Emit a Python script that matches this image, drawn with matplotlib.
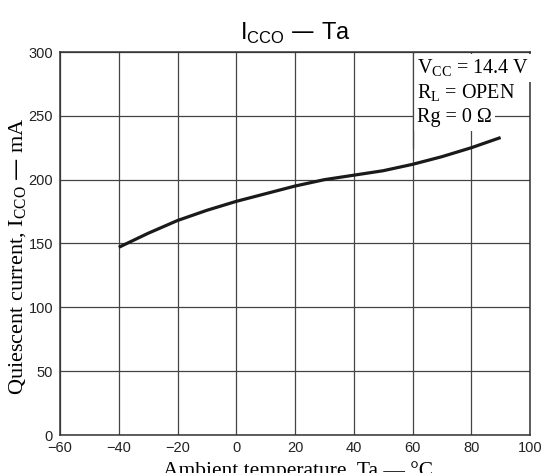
import numpy as np
import matplotlib.pyplot as plt

# values
temp = [-40, -30, -20, -10, 0, 10, 20, 30, 40, 50, 60, 70, 80, 90]
icco = [147, 158, 168, 176, 183, 189, 195, 200, 203.5, 207, 212, 218, 225, 233]

xticks = [-60, -40, -20, 0, 20, 40, 60, 80, 100]
yticks = [0, 50, 100, 150, 200, 250, 300]

sans = ["Liberation Sans", "DejaVu Sans"]
serif = ["Liberation Serif", "DejaVu Serif"]

W, H = 552, 473
fig = plt.figure(figsize=(W/100, H/100), dpi=100, facecolor="white")
ax = fig.add_axes([60/W, 1-435/H, 470/W, 383/H])

ax.set_xlim(-60, 100)
ax.set_ylim(0, 300)
ax.set_xticks(xticks)
ax.set_yticks(yticks)
ax.grid(True, color="#444444", linewidth=0.9)
ax.set_axisbelow(True)
for s in ax.spines.values():
    s.set_color("#333333")
    s.set_linewidth(1.1)
ax.tick_params(length=0, pad=4, labelsize=10.5, colors="#222222")
ax.tick_params(axis="y", pad=5)
for lab in ax.get_xticklabels() + ax.get_yticklabels():
    lab.set_family(sans)

ax.plot(temp, icco, color="#1a1a1a", linewidth=2.3, solid_capstyle="butt")

# title and axis labels
fig.text(295/W, 1-40/H, r"I$_{\mathregular{CCO}}$ — Ta", ha="center", va="baseline",
         fontsize=17, family=sans)
fig.text(18/W, 1-256/H, r"Quiescent current, I$_{\mathregular{CCO}}$ — mA",
         rotation=90, ha="center", va="center", fontsize=16, family=serif)
fig.text(298/W, 1-476/H, "Ambient temperature, Ta — °C", ha="center", va="baseline",
         fontsize=15.5, family=serif)

# test conditions (white box, the 60 gridline stays as its left edge)
cond = [r"V$_{\mathregular{CC}}$ = 14.4 V", r"R$_{\mathregular{L}}$ = OPEN", r"Rg = 0 Ω"]
for i, t in enumerate(cond):
    ax.text(0.76, 0.958 - i*0.065, t, transform=ax.transAxes, ha="left", va="center",
            fontsize=14.5, family=serif, zorder=3,
            bbox=dict(facecolor="white", edgecolor="none", pad=2.5))
ax.axvline(xticks[6], ymin=0.75, ymax=1, color="#444444", linewidth=0.9, zorder=4)

fig.savefig("out.png", dpi=100, facecolor="white")
